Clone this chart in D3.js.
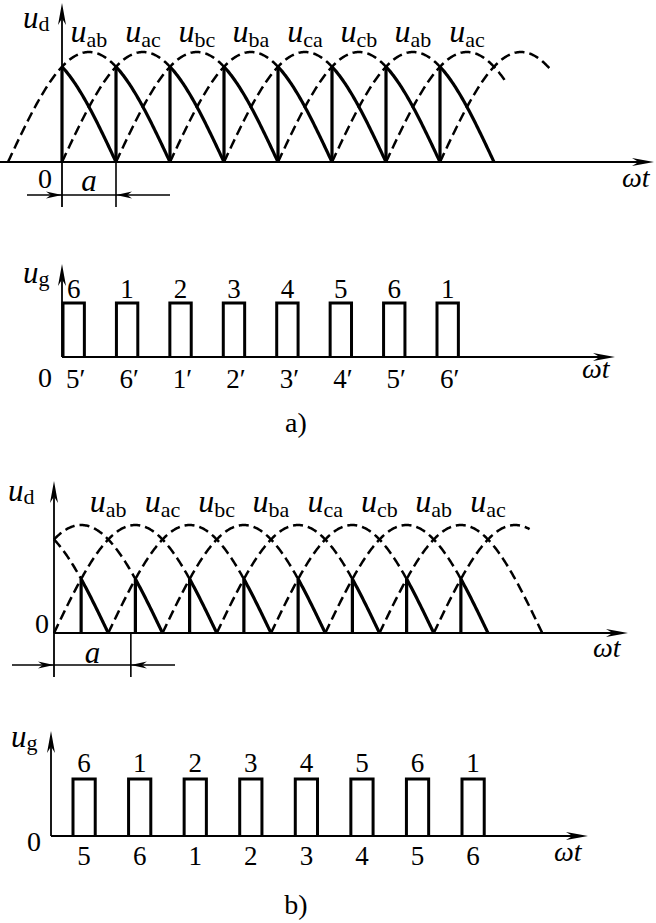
<!DOCTYPE html>
<html><head><meta charset="utf-8">
<script src="https://cdn.jsdelivr.net/npm/d3@7"></script>
<style>body{margin:0;background:#fff}svg{display:block}text{font-family:"Liberation Serif","Times New Roman",serif;fill:#000}</style>
</head><body><svg id="c" width="656" height="923"></svg>
<script>
// ---------- data ----------
const lineLabels = ["ab","ac","bc","ba","ca","cb","ab","ac"];
const firingA = [0,60,120,180,240,300,360,420];      // firing instants (deg) panel a
const firingB = [30,90,150,210,270,330,390,450];     // firing instants (deg) panel b
const alphaA = 60, alphaB = 90;                      // firing delay angles
const tailZeroA = [360,420], tailEndA = [492,545];   // extra dashed arches panel a
const tailZeroB = [360,420], tailEndB = [540,526];   // extra dashed arches panel b
const gateTopA = ["6","1","2","3","4","5","6","1"];
const gateBottomA = ["5′","6′","1′","2′","3′","4′","5′","6′"];
const gateTopB = ["6","1","2","3","4","5","6","1"];
const gateBottomB = ["5","6","1","2","3","4","5","6"];
const pulseWidth = 24;

// ---------- helpers ----------
const svg = d3.select("#c");
function arrowHead(g, x, y, dir, len, hw) {
  let p;
  if (dir === 'r') p = [[x,y],[x-len,y-hw],[x-len*0.7,y],[x-len,y+hw]];
  else if (dir === 'l') p = [[x,y],[x+len,y-hw],[x+len*0.7,y],[x+len,y+hw]];
  else p = [[x,y],[x-hw,y+len],[x,y+len*0.7],[x+hw,y+len]];
  g.append("path").attr("d", "M" + p.map(d=>d.join(",")).join("L") + "Z").attr("fill","#000");
}
function sym(g, x, y, main, sub, anchor, fs, sfs, dy) {
  const t = g.append("text").attr("x",x).attr("y",y).attr("text-anchor",anchor||"start");
  t.append("tspan").attr("font-style","italic").attr("font-size",fs||32).text(main);
  if (sub) t.append("tspan").attr("font-size",sfs||22).attr("dy",dy==null?5:dy).text(sub);
  return t;
}
function plain(g, x, y, s, fs, anchor, italic) {
  return g.append("text").attr("x",x).attr("y",y).attr("font-size",fs).attr("text-anchor",anchor||"middle")
    .attr("font-style", italic?"italic":"normal").text(s);
}
const rad = d => d*Math.PI/180;
function archPath(x, y, th0, from, to) {
  const pts = d3.range(from, to, 1).concat([to]);
  return d3.line().x(t=>x(t)).y(t=>y(Math.max(0,Math.sin(rad(t-th0)))))(pts);
}

// ---------- ud panel ----------
function udPanel(cfg) {
  const g = svg.append("g");
  const x = d3.scaleLinear().domain([0,480]).range(cfg.xr);
  const y = d3.scaleLinear().domain([0,1]).range(cfg.yr);
  const fire = 60 + cfg.alpha;
  cfg.firing.forEach((tf)=>{
    const th0 = tf - fire;
    const start = cfg.dashFrom(th0);
    if (start !== null && start < tf)
      g.append("path").attr("d", archPath(x,y,th0,start,tf)).attr("fill","none")
        .attr("stroke","#000").attr("stroke-width",2.5).attr("stroke-dasharray","10,5");
  });
  cfg.tailZero.forEach((th0,i)=>{
    g.append("path").attr("d", archPath(x,y,th0,th0,cfg.tailEnd[i])).attr("fill","none")
      .attr("stroke","#000").attr("stroke-width",2.5).attr("stroke-dasharray","10,5");
  });
  cfg.firing.forEach((tf,k)=>{
    const th0 = tf - fire;
    g.append("path").attr("d", archPath(x,y,th0,tf,th0+180)).attr("fill","none")
      .attr("stroke","#000").attr("stroke-width",3.2);
    g.append("line").attr("x1",x(tf)).attr("x2",x(tf)).attr("y1",y(0)).attr("y2",y(Math.sin(rad(fire))))
      .attr("stroke","#000").attr("stroke-width",3.2);
    sym(g, x(tf+30), cfg.labelY, "u", lineLabels[k], "middle");
  });
  g.append("line").attr("x1",cfg.axisX0).attr("x2",cfg.axisTip-10).attr("y1",y(0)).attr("y2",y(0))
    .attr("stroke","#000").attr("stroke-width",2);
  arrowHead(g, cfg.axisTip, y(0), 'r', 22, 4);
  g.append("line").attr("x1",x(0)).attr("x2",x(0)).attr("y1",cfg.dimY+12).attr("y2",cfg.yTip+10)
    .attr("stroke","#000").attr("stroke-width",1.8);
  arrowHead(g, x(0), cfg.yTip, 'u', 22, 4);
  const xa = x(cfg.dimTo);
  g.append("line").attr("x1",xa).attr("x2",xa).attr("y1",y(0)).attr("y2",cfg.dimY+12)
    .attr("stroke","#000").attr("stroke-width",1.6);
  g.append("line").attr("x1",cfg.dimX0).attr("x2",cfg.dimX1).attr("y1",cfg.dimY).attr("y2",cfg.dimY)
    .attr("stroke","#000").attr("stroke-width",1.6);
  arrowHead(g, x(0), cfg.dimY, 'r', 16, 3.5);
  arrowHead(g, xa, cfg.dimY, 'l', 16, 3.5);
  plain(g, (x(0)+xa)/2, cfg.aY, "a", 31, "middle", true);
  plain(g, cfg.zeroX, cfg.zeroY, "0", 28, "middle");
  sym(g, cfg.udX, cfg.udY, "u", "d", "start", 31, 22, 3);
  plain(g, cfg.wtX, cfg.wtY, "ωt", 28, "start", true);
}

udPanel({xr:[62,494], yr:[162,52], alpha:alphaA, firing:firingA, tailZero:tailZeroA, tailEnd:tailEndA,
  dashFrom: th0 => th0 >= -60 ? th0 : null, labelY:42, axisX0:0, axisTip:654, yTip:3,
  dimY:195, dimX0:27, dimX1:170, dimTo:alphaA, aY:191, zeroX:45, zeroY:188, udX:23, udY:28, wtX:622, wtY:187});

udPanel({xr:[54,488], yr:[633,525], alpha:alphaB, firing:firingB, tailZero:tailZeroB, tailEnd:tailEndB,
  dashFrom: th0 => Math.max(th0,0), labelY:512, axisX0:54, axisTip:628, yTip:481,
  dimY:665, dimX0:12, dimX1:175, dimTo:85, aY:663, zeroX:42, zeroY:633, udX:8, udY:501, wtX:593, wtY:657});

// ---------- ug panel ----------
function ugPanel(cfg) {
  const g = svg.append("g");
  const x = d3.scaleLinear().domain([cfg.firing[0], cfg.firing[cfg.firing.length-1]]).range(cfg.xr);
  const y0 = cfg.baseY, y1 = cfg.topY;
  cfg.firing.forEach((tf,k)=>{
    const xs = x(tf), xe = x(tf+pulseWidth);
    g.append("path").attr("d",`M${xs},${y0}V${y1}H${xe}V${y0}`).attr("fill","none")
      .attr("stroke","#000").attr("stroke-width",3);
    plain(g, (xs+xe)/2, cfg.topLabelY, cfg.top[k], 27);
    plain(g, (xs+xe)/2 + cfg.botShift, cfg.botLabelY, cfg.bottom[k], 27);
  });
  g.append("line").attr("x1",cfg.axisX).attr("x2",cfg.axisTip-10).attr("y1",y0).attr("y2",y0)
    .attr("stroke","#000").attr("stroke-width",2);
  arrowHead(g, cfg.axisTip, y0, 'r', 22, 4);
  g.append("line").attr("x1",cfg.axisX).attr("x2",cfg.axisX).attr("y1",y0).attr("y2",cfg.yTip+10)
    .attr("stroke","#000").attr("stroke-width",1.8);
  arrowHead(g, cfg.axisX, cfg.yTip, 'u', 22, 4);
  sym(g, cfg.ugX, cfg.ugY, "u", "g", "start", 31, 22, 3);
  plain(g, cfg.zeroX, cfg.zeroY, "0", 28, "middle");
  plain(g, cfg.wtX, cfg.wtY, "ωt", 28, "start", true);
  plain(g, 296, cfg.capY, cfg.cap, 28, "middle");
}

ugPanel({firing:firingA, xr:[63,437], baseY:357, topY:303, top:gateTopA, bottom:gateBottomA, botShift:2,
  topLabelY:298, botLabelY:388, axisX:62, axisTip:615, yTip:264, ugX:23, ugY:283, zeroX:45, zeroY:387,
  wtX:582, wtY:378, cap:"a)", capY:432});

ugPanel({firing:firingB, xr:[73,462], baseY:836, topY:779, top:gateTopB, bottom:gateBottomB, botShift:0,
  topLabelY:772, botLabelY:865, axisX:51, axisTip:588, yTip:731, ugX:11, ugY:747, zeroX:34, zeroY:851,
  wtX:554, wtY:861, cap:"b)", capY:914});
</script></body></html>
